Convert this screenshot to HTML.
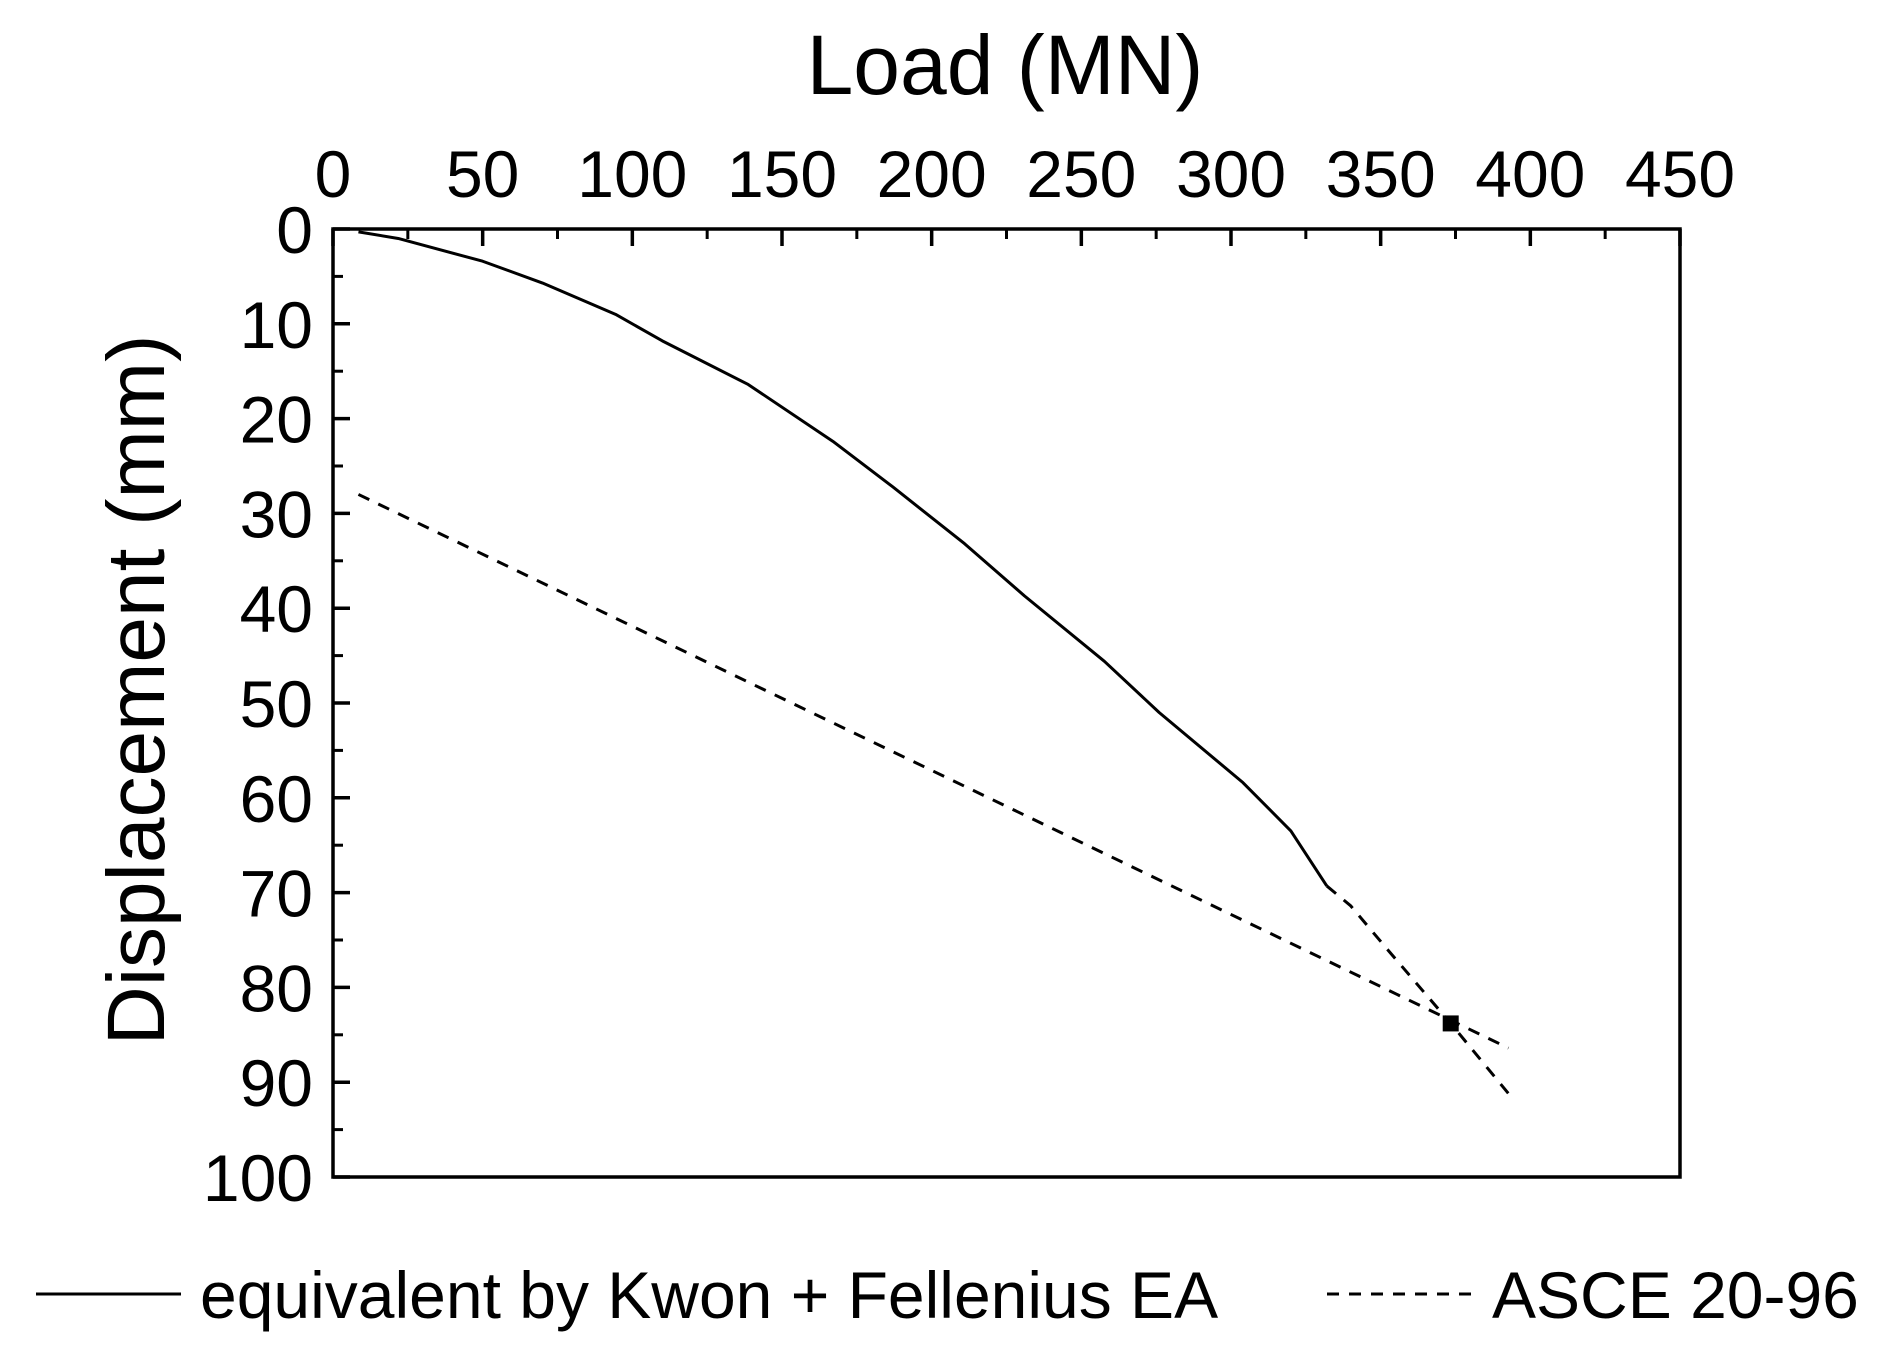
<!DOCTYPE html>
<html><head><meta charset="utf-8"><style>
html,body{margin:0;padding:0;background:#fff;}
svg{display:block;font-family:"Liberation Sans",Arial,sans-serif;}
</style></head><body>
<svg id="chart" width="1892" height="1355" viewBox="0 0 1892 1355">
<rect width="1892" height="1355" fill="#fff"/>
<g id="plot"></g>
</svg>
<script>
const xTicks=[0,50,100,150,200,250,300,350,400,450];
const yTicks=[0,10,20,30,40,50,60,70,80,90,100];
const kwonLoad=[8.5,21.8,50,70,94.4,110,138.7,167,187,211,231,257.7,276,304,320,332];
const kwonDisp=[0.3,1.0,3.4,5.7,9.0,11.8,16.4,22.4,27.2,33.2,38.7,45.6,51,58.4,63.5,69.3];
const extLoad=[332,340,352,373.4,392.7];
const extDisp=[69.3,71.4,75.9,83.8,91.2];
const asceLoad=[8.5,171,392.7];
const asceDisp=[28.0,52.7,86.4];
const markLoad=[373.4];
const markDisp=[83.8];

const L=333,R=1680,T=229,B=1177;
const sx=v=>L+(v-0)/(450-0)*(R-L);
const sy=v=>T+(v-0)/(100-0)*(B-T);
const NS="http://www.w3.org/2000/svg";
const g=document.getElementById('plot');
function mk(tag,attrs){const e=document.createElementNS(NS,tag);for(const k in attrs)e.setAttribute(k,attrs[k]);g.appendChild(e);return e;}

let fr=mk('rect',{x:L,y:T,width:R-L,height:B-T,fill:'none',stroke:'#000','stroke-width':3.5});



xTicks.forEach((v,i)=>{
  const x=sx(v);
  let t=mk('line',{x1:x,y1:T,x2:x,y2:T+17,stroke:'#000','stroke-width':3.5});
  
  
  if(i<xTicks.length-1){
    const xm=sx(v+25);
    let m=mk('line',{x1:xm,y1:T,x2:xm,y2:T+10,stroke:'#000','stroke-width':3});
    
    
  }
  let lb=mk('text',{x:x,y:197,'font-size':66,'text-anchor':'middle'});
  lb.textContent=v;
  
  
});
yTicks.forEach((v,i)=>{
  const y=sy(v);
  let t=mk('line',{x1:L,y1:y,x2:L+17,y2:y,stroke:'#000','stroke-width':3.5});
  
  
  if(i<yTicks.length-1){
    const ym=sy(v+5);
    let m=mk('line',{x1:L,y1:ym,x2:L+10,y2:ym,stroke:'#000','stroke-width':3});
    
    
  }
  let lb=mk('text',{x:313,y:y+24,'font-size':66,'text-anchor':'end'});
  lb.textContent=v;
  
  
});

let xt=mk('text',{x:1005,y:94,'font-size':84,'text-anchor':'middle'});
xt.textContent='Load (MN)';


let yt=mk('text',{x:0,y:0,'font-size':82,'text-anchor':'middle',transform:'translate(164,690) rotate(-90)'});
yt.textContent='Displacement (mm)';



function pts(xs,ys){return xs.map((v,i)=>sx(v)+','+sy(ys[i])).join(' ');}
let s1=mk('polyline',{points:pts(kwonLoad,kwonDisp),fill:'none',stroke:'#000','stroke-width':3,'stroke-linejoin':'round'});


let s2=mk('polyline',{points:pts(extLoad,extDisp),fill:'none',stroke:'#000','stroke-width':3,'stroke-dasharray':'12,10'});


let s3=mk('polyline',{points:pts(asceLoad,asceDisp),fill:'none',stroke:'#000','stroke-width':3,'stroke-dasharray':'12,10'});


markLoad.forEach((v,i)=>{
  let m=mk('rect',{x:sx(v)-8,y:sy(markDisp[i])-8,width:16,height:16,fill:'#000'});
  
  
});

let l1=mk('line',{x1:36,y1:1294,x2:181,y2:1294,stroke:'#000','stroke-width':3});


let lt1=mk('text',{x:200,y:1318,'font-size':66});
lt1.textContent='equivalent by Kwon + Fellenius EA';


let l2=mk('line',{x1:1327,y1:1294,x2:1475,y2:1294,stroke:'#000','stroke-width':3,'stroke-dasharray':'12,10'});


let lt2=mk('text',{x:1492,y:1318,'font-size':66});
lt2.textContent='ASCE 20-96';


</script>
</body></html>
